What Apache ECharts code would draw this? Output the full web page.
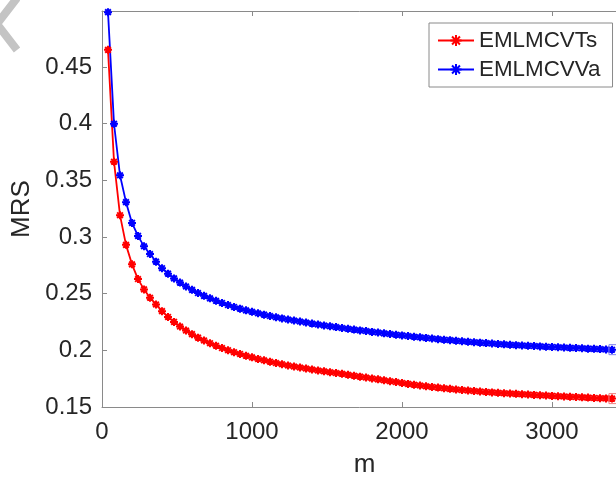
<!DOCTYPE html>
<html>
<head>
<meta charset="utf-8">
<script src="https://cdn.jsdelivr.net/npm/echarts@6/dist/echarts.min.js"></script>
<style>
html,body{margin:0;padding:0;background:#fff;}
#chart{width:616px;height:483px;}
</style>
</head>
<body>
<div id="chart"></div>
<script>
const seriesNames = ['EMLMCVTs', 'EMLMCVVa'];
const mValues = [40,80,120,160,200,240,280,320,360,400,440,480,520,560,600,640,680,720,760,800,
840,880,920,960,1000,1040,1080,1120,1160,1200,1240,1280,1320,1360,1400,1440,1480,1520,1560,1600,
1640,1680,1720,1760,1800,1840,1880,1920,1960,2000,2040,2080,2120,2160,2200,2240,2280,2320,2360,2400,
2440,2480,2520,2560,2600,2640,2680,2720,2760,2800,2840,2880,2920,2960,3000,3040,3080,3120,3160,3200,
3240,3280,3320,3360,3400];
const redValues = [0.4652,0.3665,0.3193,0.2931,0.2759,0.2629,0.2538,0.2465,0.2405,0.2346,
0.2295,0.2251,0.2210,0.2175,0.2143,0.2112,0.2087,0.2063,0.2041,0.2020,
0.2001,0.1984,0.1968,0.1952,0.1938,0.1924,0.1912,0.1900,0.1888,0.1878,
0.1867,0.1857,0.1848,0.1839,0.1831,0.1822,0.1815,0.1807,0.1800,0.1793,
0.1784,0.1776,0.1768,0.1760,0.1752,0.1744,0.1736,0.1728,0.1720,0.1712,
0.1704,0.1697,0.1690,0.1683,0.1677,0.1671,0.1665,0.1660,0.1655,0.1650,
0.1645,0.1641,0.1637,0.1633,0.1629,0.1625,0.1622,0.1619,0.1616,0.1613,
0.1610,0.1607,0.1604,0.1601,0.1598,0.1595,0.1593,0.1590,0.1588,0.1585,
0.1583,0.1580,0.1578,0.1576,0.1574];
const blueValues = [0.4985,0.4000,0.3545,0.3308,0.3125,0.3010,0.2918,0.2850,0.2783,0.2725,
0.2677,0.2635,0.2598,0.2564,0.2534,0.2506,0.2481,0.2459,0.2437,0.2418,
0.2400,0.2383,0.2368,0.2353,0.2340,0.2327,0.2315,0.2303,0.2292,0.2282,
0.2272,0.2263,0.2254,0.2245,0.2236,0.2228,0.2220,0.2212,0.2205,0.2197,
0.2190,0.2183,0.2176,0.2170,0.2163,0.2157,0.2150,0.2144,0.2138,0.2132,
0.2126,0.2120,0.2115,0.2110,0.2104,0.2099,0.2094,0.2090,0.2085,0.2080,
0.2076,0.2072,0.2068,0.2064,0.2060,0.2056,0.2053,0.2049,0.2046,0.2043,
0.2040,0.2038,0.2035,0.2032,0.2030,0.2027,0.2025,0.2022,0.2020,0.2018,
0.2015,0.2013,0.2011,0.2008,0.2006];
const xTicks = [0, 1000, 2000, 3000];
const yTicks = [0.15, 0.2, 0.25, 0.3, 0.35, 0.4, 0.45];

const FONT = 'Liberation Sans, Arial, Helvetica, sans-serif';
const AX = '#8a8a8a';
const TXT = '#262626';
const star = 'path://M0,-10L0,10M-10,0L10,0M-7.07,-7.07L7.07,7.07M-7.07,7.07L7.07,-7.07';

function pairs(xs, ys){ return xs.map((x,i)=>[x, ys[i]]); }

function makeSeries(name, color, edge, ys){
  const last = ys.length - 1;
  return {
    name: name, type: 'line', data: pairs(mValues, ys),
    symbol: star, symbolSize: 8,
    itemStyle: {color: color, borderColor: color, borderWidth: 2},
    lineStyle: {color: color, width: 1.8},
    silent: true,
    markPoint: {
      symbol: 'rect', symbolSize: 10, silent: true,
      label: {show: false},
      itemStyle: {color: 'rgba(0,0,0,0)', borderColor: edge, borderWidth: 1},
      data: [{coord: [mValues[last] + 13, ys[last]]}]
    }
  };
}

const chart = echarts.init(document.getElementById('chart'), null, {renderer: 'canvas'});
chart.setOption({
  animation: false,
  backgroundColor: '#fff',
  grid: {left: 102, top: 11, width: 525, height: 396, outerBoundsMode: 'none', containLabel: false},
  legend: {
    data: seriesNames, orient: 'vertical', left: 429, top: 23,
    padding: [5, 12, 5, 8], itemGap: 4, itemWidth: 36, itemHeight: 14,
    borderColor: AX, borderWidth: 1, backgroundColor: '#fff',
    selectedMode: false,
    textStyle: {fontFamily: FONT, fontSize: 22.4, color: TXT, lineHeight: 25}
  },
  xAxis: [{
    type: 'value', min: 0, max: 3500, interval: 1000,
    name: 'm', nameLocation: 'middle', nameGap: 45,
    nameTextStyle: {fontFamily: FONT, fontSize: 26, color: TXT},
    axisLine: {lineStyle: {color: AX, width: 1}},
    axisTick: {inside: true, length: 5, lineStyle: {color: AX}},
    axisLabel: {fontFamily: FONT, fontSize: 24, color: TXT, margin: 13, showMaxLabel: false,
      formatter: v => String(v)},
    splitLine: {show: false}
  }, {
    type: 'value', position: 'top', min: 0, max: 3500, interval: 1000,
    axisLine: {lineStyle: {color: AX, width: 1}},
    axisTick: {inside: true, length: 5, lineStyle: {color: AX}},
    axisLabel: {show: false}, splitLine: {show: false}
  }],
  yAxis: [{
    type: 'value', min: 0.15, max: 0.4995, interval: 0.05,
    name: 'MRS', nameLocation: 'middle', nameGap: 60,
    nameTextStyle: {fontFamily: FONT, fontSize: 26, color: TXT},
    axisLine: {show: true, lineStyle: {color: AX, width: 1}},
    axisTick: {show: true, inside: true, length: 5, lineStyle: {color: AX}},
    axisLabel: {fontFamily: FONT, fontSize: 24, color: TXT, margin: 10, showMaxLabel: false,
      formatter: v => String(Math.round(v * 100) / 100)},
    splitLine: {show: false}
  }],
  series: [
    makeSeries(seriesNames[0], '#ff0000', '#f08080', redValues),
    makeSeries(seriesNames[1], '#0000ff', '#8080f0', blueValues)
  ],
  graphic: [{
    type: 'polyline', silent: true,
    shape: {points: [[17, -2], [-3, 24], [17, 50]]},
    style: {stroke: '#c4c4c4', lineWidth: 8, fill: null}
  }]
});
</script>
</body>
</html>
